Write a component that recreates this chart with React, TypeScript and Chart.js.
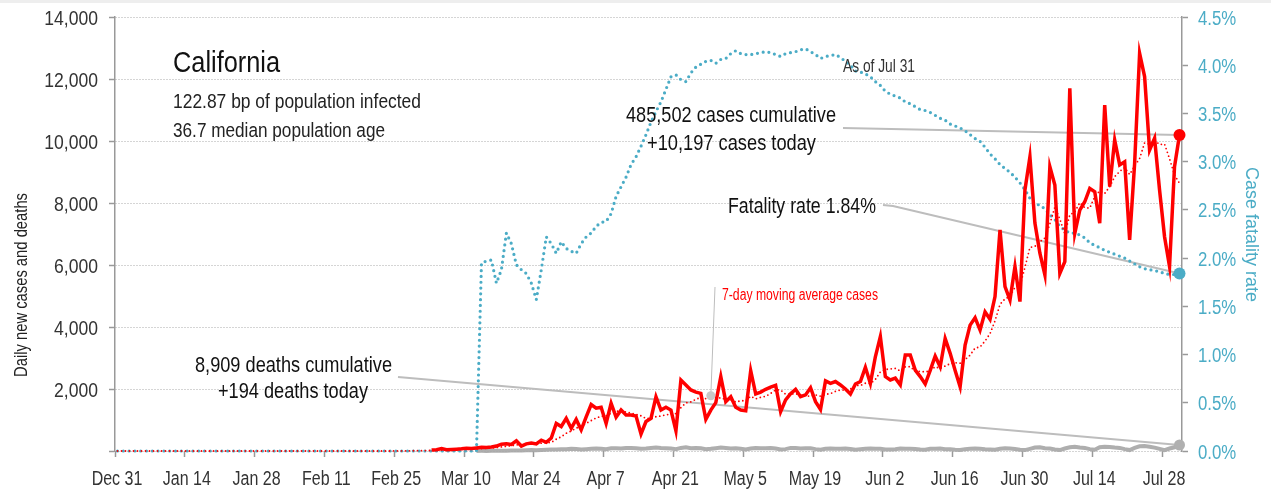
import React, { useEffect, useRef } from "react";
import { Chart, registerables } from "chart.js";

Chart.register(...registerables);

const FONT = '"Liberation Sans", Arial, sans-serif';

// x tick labels every 14 days starting Dec 31
const tickLabels = [
  "Dec 31", "Jan 14", "Jan 28", "Feb 11", "Feb 25", "Mar 10", "Mar 24", "Apr 7",
  "Apr 21", "May 5", "May 19", "Jun 2", "Jun 16", "Jun 30", "Jul 14", "Jul 28",
];
const leftTicks = [0, 2000, 4000, 6000, 8000, 10000, 12000, 14000];
const rightTicks = [0, 0.5, 1, 1.5, 2, 2.5, 3, 3.5, 4, 4.5];

// daily new cases, Dec 31 .. Jul 31 (null = not yet reported)
const dailyCases: (number | null)[] = [
  null, null, null, null, null, null, null, null, null, null,
  null, null, null, null, null, null, null, null, null, null,
  null, null, null, null, null, null, null, null, null, null,
  null, null, null, null, null, null, null, null, null, null,
  null, null, null, null, null, null, null, null, null, null,
  null, null, null, null, null, null, null, null, null, null,
  null, null, null, 30, 40, 80, 40, 50, 60, 70,
  90, 80, 100, 120, 110, 130, 160, 220, 230, 210,
  330, 160, 230, 260, 230, 350, 280, 420, 890, 790,
  1050, 730, 1020, 680, 1100, 1500, 1380, 1410, 890, 1540,
  1090, 1320, 1160, 1160, 1130, 550, 950, 1050, 1750, 1320,
  1410, 1320, 650, 2290, 2130, 1970, 1900, 1860, 1020, 1320,
  1560, 2400, 1590, 1750, 1410, 1320, 1300, 2590, 1840, 1900,
  1990, 2060, 2120, 1270, 1650, 1850, 1990, 1750, 1810, 2040,
  1590, 1340, 2260, 2180, 2240, 2130, 2000, 1840, 2160, 2240,
  2700, 2180, 3040, 3690, 2400, 2290, 2350, 2130, 3100, 3100,
  2610, 2400, 2160, 2600, 3060, 2720, 3630, 3150, 2600, 2070,
  3420, 4060, 4300, 3900, 4490, 4250, 4980, 7130, 5300, 4870,
  5950, 4820, 8420, 9490, 7350, 6380, 5680, 9170, 8580, 5730,
  6110, 11700, 7020, 7770, 8040, 8470, 8360, 7350, 11160, 8530,
  10030, 9230, 9330, 6810, 9280, 12830, 12080, 9710, 10090, 8420,
  6910, 5950, 9170, 10197,
];

// 7-day moving average of cases
const avgCases = [
  0, 0, 0, 0, 0, 0, 0, 0, 0, 0,
  0, 0, 0, 0, 0, 0, 0, 0, 0, 0,
  0, 0, 0, 0, 0, 0, 0, 0, 0, 0,
  0, 0, 0, 0, 0, 0, 0, 0, 0, 0,
  0, 0, 0, 0, 0, 0, 0, 0, 0, 0,
  0, 0, 0, 0, 0, 1, 2, 3, 4, 7,
  9, 12, 15, 18, 23, 33, 36, 41, 46, 53,
  61, 67, 70, 81, 90, 100, 113, 131, 153, 169,
  199, 206, 220, 234, 236, 253, 263, 276, 380, 460,
  573, 644, 740, 797, 894, 981, 1066, 1117, 1140, 1214,
  1273, 1304, 1256, 1224, 1184, 1136, 1051, 1046, 1107, 1130,
  1166, 1193, 1207, 1399, 1553, 1584, 1667, 1731, 1689, 1784,
  1680, 1719, 1664, 1643, 1579, 1621, 1619, 1766, 1686, 1730,
  1764, 1857, 1971, 1967, 1833, 1834, 1847, 1813, 1777, 1766,
  1811, 1767, 1826, 1853, 1923, 1969, 1963, 1999, 2116, 2113,
  2187, 2179, 2309, 2550, 2630, 2649, 2664, 2583, 2714, 2723,
  2569, 2569, 2550, 2586, 2719, 2664, 2740, 2817, 2846, 2833,
  2950, 3093, 3319, 3357, 3549, 3784, 4200, 4730, 4907, 4989,
  5281, 5329, 5924, 6569, 6600, 6754, 6870, 7330, 7867, 7483,
  7000, 7621, 7713, 8011, 7850, 7834, 8210, 8387, 8310, 8526,
  8849, 9019, 9141, 8920, 9196, 9434, 9941, 9896, 10019, 9889,
  9903, 9427, 8904, 8635,
];

// daily deaths (null = none reported yet)
const dailyDeaths: (number | null)[] = [
  null, null, null, null, null, null, null, null, null, null,
  null, null, null, null, null, null, null, null, null, null,
  null, null, null, null, null, null, null, null, null, null,
  null, null, null, null, null, null, null, null, null, null,
  null, null, null, null, null, null, null, null, null, null,
  null, null, null, null, null, null, null, null, null, null,
  null, null, null, null, null, null, null, null, null, null,
  null, null, 3, 5, 4, 6, 8, 10, 12, 15,
  20, 18, 25, 30, 25, 35, 40, 45, 50, 60,
  55, 70, 65, 50, 60, 70, 80, 70, 60, 90,
  85, 80, 95, 100, 90, 70, 80, 100, 110, 95,
  90, 80, 60, 100, 120, 90, 95, 85, 60, 70,
  90, 110, 95, 80, 85, 75, 50, 80, 100, 90,
  85, 95, 80, 50, 60, 100, 95, 80, 90, 85,
  60, 40, 70, 80, 75, 70, 80, 65, 40, 60,
  70, 80, 75, 70, 50, 45, 60, 80, 70, 75,
  65, 50, 40, 70, 75, 80, 60, 55, 40, 30,
  60, 70, 80, 75, 60, 50, 40, 70, 90, 80,
  65, 40, 30, 70, 110, 120, 90, 80, 50, 30,
  80, 120, 140, 110, 100, 60, 40, 120, 140, 130,
  110, 100, 60, 30, 100, 150, 160, 140, 110, 70,
  30, 80, 120, 194,
];

// case fatality rate (%)
const fatalityRate = [
  0, 0, 0, 0, 0, 0, 0, 0, 0, 0,
  0, 0, 0, 0, 0, 0, 0, 0, 0, 0,
  0, 0, 0, 0, 0, 0, 0, 0, 0, 0,
  0, 0, 0, 0, 0, 0, 0, 0, 0, 0,
  0, 0, 0, 0, 0, 0, 0, 0, 0, 0,
  0, 0, 0, 0, 0, 0, 0, 0, 0, 0,
  0, 0, 0, 0, 0, 0, 0, 0, 0, 0,
  0, 0, 0, 1.95, 1.97, 1.98, 1.74, 1.88, 2.26, 2.15,
  1.93, 1.88, 1.84, 1.74, 1.57, 1.88, 2.22, 2.15, 2.05, 2.17,
  2.10, 2.07, 2.05, 2.15, 2.22, 2.26, 2.33, 2.37, 2.38, 2.46,
  2.64, 2.74, 2.84, 2.97, 3.05, 3.16, 3.28, 3.41, 3.52, 3.62,
  3.75, 3.88, 3.90, 3.85, 3.83, 3.92, 3.98, 4.01, 4.04, 4.05,
  4.02, 4.06, 4.07, 4.12, 4.15, 4.12, 4.11, 4.11, 4.12, 4.13,
  4.14, 4.13, 4.11, 4.09, 4.12, 4.13, 4.14, 4.16, 4.17, 4.14,
  4.11, 4.07, 4.09, 4.10, 4.11, 4.08, 4.04, 4.00, 3.94, 3.93,
  3.91, 3.88, 3.83, 3.79, 3.73, 3.70, 3.68, 3.66, 3.62, 3.60,
  3.57, 3.54, 3.53, 3.51, 3.48, 3.45, 3.43, 3.39, 3.37, 3.35,
  3.32, 3.28, 3.24, 3.21, 3.15, 3.08, 3.03, 2.97, 2.93, 2.89,
  2.84, 2.78, 2.71, 2.62, 2.56, 2.55, 2.51, 2.45, 2.40, 2.33,
  2.29, 2.26, 2.26, 2.24, 2.21, 2.16, 2.13, 2.11, 2.08, 2.06,
  2.04, 2.02, 2.00, 1.97, 1.94, 1.91, 1.89, 1.88, 1.87, 1.86,
  1.84, 1.83, 1.83, 1.84,
];

const DAY_OFFSET = 0.5; // reports are plotted in the afternoon of their day
const annotationDay = 119; // where the "7-day moving average" callout points

const RED = "#ff0000";
const TEAL = "#4bacc6";
const GRAY_LINE = "#bdbdbd";

const toXY = (arr: (number | null)[]) => arr.map((v, i) => ({ x: i + DAY_OFFSET, y: v }));
const lastDot = (arr: (number | null)[], r: number) => arr.map((_, i) => (i === arr.length - 1 ? r : 0));

type TextOpts = { size: number; color: string; align?: CanvasTextAlign; width?: number; stretch?: number; rotate?: number };

function drawText(ctx: CanvasRenderingContext2D, s: string, x: number, y: number, o: TextOpts) {
  ctx.save();
  ctx.translate(x, y);
  if (o.rotate) ctx.rotate(o.rotate);
  ctx.font = `${o.size}px ${FONT}`;
  const w = ctx.measureText(s).width;
  const sx = o.width ? o.width / w : o.stretch ?? 1;
  ctx.scale(sx, 1);
  ctx.textAlign = o.align ?? "left";
  ctx.textBaseline = "alphabetic";
  ctx.fillStyle = o.color;
  ctx.fillText(s, 0, 0);
  ctx.restore();
}

const annotationPlugin = {
  id: "annotations",
  beforeDatasetsDraw(chart: any) {
    const ctx = chart.ctx;
    const xs = chart.scales.x;
    const yl = chart.scales.y;
    const yr = chart.scales.y2;
    const last = dailyCases.length - 1;
    const lx = xs.getPixelForValue(last + DAY_OFFSET);
    ctx.save();
    ctx.strokeStyle = GRAY_LINE;
    ctx.lineWidth = 2;
    ctx.beginPath();
    ctx.moveTo(843, 128);
    ctx.lineTo(lx, yl.getPixelForValue(dailyCases[last] as number));
    ctx.stroke();
    ctx.beginPath();
    ctx.moveTo(883, 205);
    ctx.lineTo(893, 206);
    ctx.lineTo(lx, yr.getPixelForValue(fatalityRate[last]));
    ctx.stroke();
    ctx.beginPath();
    ctx.moveTo(398, 377);
    ctx.lineTo(lx, yl.getPixelForValue(dailyDeaths[last] as number));
    ctx.stroke();
    ctx.lineWidth = 1;
    ctx.beginPath();
    ctx.moveTo(715, 287);
    ctx.lineTo(xs.getPixelForValue(annotationDay + DAY_OFFSET), yl.getPixelForValue(avgCases[annotationDay]));
    ctx.stroke();
    ctx.restore();
  },
  afterDatasetsDraw(chart: any) {
    const ctx = chart.ctx as CanvasRenderingContext2D;
    const xs = chart.scales.x;
    const yl = chart.scales.y;
    const yr = chart.scales.y2;
    ctx.save();
    ctx.fillStyle = "#c8c8c8";
    ctx.beginPath();
    ctx.arc(xs.getPixelForValue(annotationDay + DAY_OFFSET), yl.getPixelForValue(avgCases[annotationDay]), 4.5, 0, Math.PI * 2);
    ctx.fill();
    ctx.restore();

    // tick labels
    leftTicks.forEach((v) => {
      if (v === 0) return;
      drawText(ctx, v.toLocaleString("en-US"), 98, yl.getPixelForValue(v) + 7.5, { size: 19.5, color: "#333", align: "right", stretch: 0.9 });
    });
    rightTicks.forEach((v) => {
      drawText(ctx, v.toFixed(1) + "%", 1198, yr.getPixelForValue(v) + 7.5, { size: 19.5, color: TEAL, align: "left", stretch: 0.86 });
    });
    tickLabels.forEach((s, i) => {
      drawText(ctx, s, xs.getPixelForValue(i * 14) + 2, 485, { size: 20, color: "#333", align: "center", stretch: 0.8 });
    });

    // axis titles
    drawText(ctx, "Daily new cases and deaths", 26.5, 285, { size: 17.5, color: "#222", align: "center", width: 184, rotate: -Math.PI / 2 });
    drawText(ctx, "Case fatality rate", 1245.5, 234.5, { size: 19, color: TEAL, align: "center", width: 135, rotate: Math.PI / 2 });

    // annotations
    drawText(ctx, "California", 173, 72, { size: 30, color: "#111", width: 107 });
    drawText(ctx, "122.87 bp of population infected", 173, 108, { size: 20.5, color: "#222", width: 248 });
    drawText(ctx, "36.7 median population age", 173, 137, { size: 20.5, color: "#222", width: 212 });
    drawText(ctx, "As of Jul 31", 843, 72, { size: 19, color: "#333", width: 72 });
    drawText(ctx, "485,502 cases cumulative", 626, 122, { size: 21.5, color: "#111", width: 210 });
    drawText(ctx, "+10,197 cases today", 647, 150, { size: 21.5, color: "#111", width: 169 });
    drawText(ctx, "Fatality rate 1.84%", 728, 213, { size: 21.5, color: "#111", width: 148 });
    drawText(ctx, "8,909 deaths cumulative", 195, 372, { size: 21.5, color: "#111", width: 197 });
    drawText(ctx, "+194 deaths today", 218, 398, { size: 21.5, color: "#111", width: 150 });
    drawText(ctx, "7-day moving average cases", 722, 300, { size: 16, color: RED, width: 156 });
  },
};

export default function App() {
  const ref = useRef<HTMLCanvasElement | null>(null);
  useEffect(() => {
    if (!ref.current) return;
    const hidden = "rgba(0,0,0,0)";
    const chart = new Chart(ref.current, {
      type: "line",
      data: {
        datasets: [
          {
            label: "Daily cases",
            data: toXY(dailyCases),
            borderColor: RED,
            backgroundColor: RED,
            borderWidth: 3.5,
            pointRadius: lastDot(dailyCases, 6),
            pointBackgroundColor: RED,
            pointBorderWidth: 0,
            clip: false,
            yAxisID: "y",
          },
          {
            label: "7-day average",
            data: toXY(avgCases),
            borderColor: RED,
            borderWidth: 1.8,
            borderDash: [0, 4],
            borderCapStyle: "round",
            pointRadius: 0,
            clip: false,
            yAxisID: "y",
          },
          {
            label: "Fatality rate",
            data: toXY(fatalityRate),
            borderColor: TEAL,
            backgroundColor: TEAL,
            borderWidth: 3.2,
            borderDash: [0, 5.8],
            borderCapStyle: "round",
            pointRadius: lastDot(fatalityRate, 6),
            pointBackgroundColor: TEAL,
            pointBorderWidth: 0,
            clip: false,
            yAxisID: "y2",
          },
          {
            label: "Daily deaths",
            data: toXY(dailyDeaths),
            borderColor: "rgba(165,165,165,0.9)",
            backgroundColor: "#aaa",
            borderWidth: 4,
            pointRadius: lastDot(dailyDeaths, 5.5),
            pointBackgroundColor: "#b0b0b0",
            pointBorderWidth: 0,
            clip: false,
            yAxisID: "y",
          },
        ],
      },
      options: {
        animation: false,
        responsive: true,
        maintainAspectRatio: false,
        parsing: false as any,
        layout: { padding: { top: 17, left: 0, right: 0, bottom: 0 } },
        plugins: { legend: { display: false }, tooltip: { enabled: false } },
        elements: { line: { tension: 0 } },
        scales: {
          x: {
            type: "linear",
            min: 0,
            max: 214,
            afterBuildTicks: (s: any) => {
              s.ticks = tickLabels.map((_, i) => ({ value: i * 14 }));
            },
            afterFit: (s: any) => {
              s.height = 40;
            },
            ticks: {
              autoSkip: false,
              maxRotation: 0,
              color: hidden,
              font: { family: FONT, size: 19 },
              callback: (v: any) => tickLabels[Math.round(Number(v) / 14)] ?? "",
            },
            grid: {
              drawOnChartArea: false,
              drawTicks: true,
              tickLength: 6,
              tickColor: "#999",
              tickWidth: 1.5,
            },
            border: { display: false },
          },
          y: {
            position: "left",
            min: 0,
            max: 14000,
            afterBuildTicks: (s: any) => {
              s.ticks = leftTicks.map((v) => ({ value: v }));
            },
            afterFit: (s: any) => {
              s.width = 115;
            },
            ticks: {
              color: hidden,
              font: { family: FONT, size: 19 },
            },
            grid: {
              color: "#aaa",
              lineWidth: 1,
              tickLength: 6,
              tickColor: "#999",
              tickWidth: 1.5,
              tickBorderDash: [],
            },
            border: { display: true, color: "#999", width: 1.5, dash: [1, 2] },
          },
          y2: {
            position: "right",
            min: 0,
            max: 4.5,
            afterBuildTicks: (s: any) => {
              s.ticks = rightTicks.map((v) => ({ value: v }));
            },
            afterFit: (s: any) => {
              s.width = 89;
            },
            ticks: {
              color: hidden,
              font: { family: FONT, size: 19 },
            },
            grid: {
              drawOnChartArea: false,
              tickLength: 6,
              tickColor: "#999",
              tickWidth: 1.5,
            },
            border: { display: true, color: "#999", width: 1.5 },
          },
        },
      },
      plugins: [annotationPlugin],
    } as any);
    return () => chart.destroy();
  }, []);

  return (
    <div style={{ position: "absolute", left: 0, top: 0, width: 1271, height: 491, background: "#fff" }}>
      <div style={{ position: "absolute", left: 0, top: 0, width: 1271, height: 3, background: "#eeeeee" }} />
      <canvas ref={ref} />
    </div>
  );
}
